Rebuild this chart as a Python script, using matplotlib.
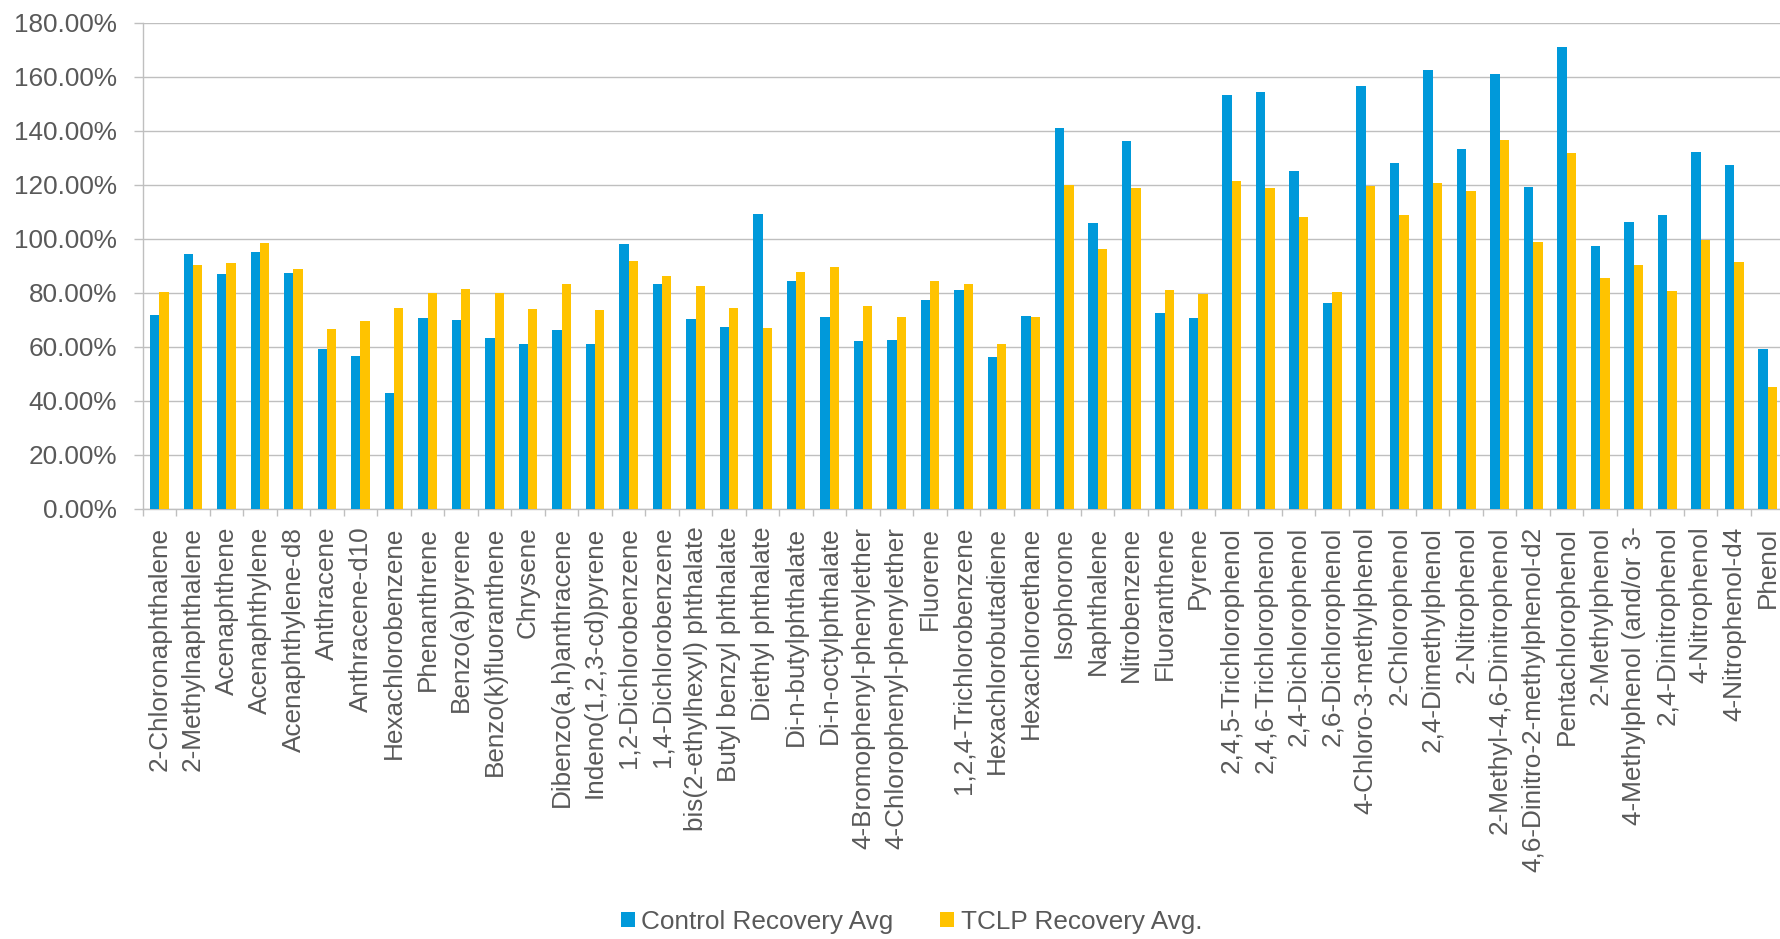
import matplotlib
matplotlib.use("Agg")
import matplotlib.pyplot as plt
import numpy as np
from matplotlib.ticker import FuncFormatter, FixedLocator
from matplotlib.patches import Patch

compounds = [
    "2-Chloronaphthalene", "2-Methylnaphthalene", "Acenaphthene", "Acenaphthylene",
    "Acenaphthylene-d8", "Anthracene", "Anthracene-d10", "Hexachlorobenzene",
    "Phenanthrene", "Benzo(a)pyrene", "Benzo(k)fluoranthene", "Chrysene",
    "Dibenzo(a,h)anthracene", "Indeno(1,2,3-cd)pyrene", "1,2-Dichlorobenzene",
    "1,4-Dichlorobenzene", "bis(2-ethylhexyl) phthalate", "Butyl benzyl phthalate",
    "Diethyl phthalate", "Di-n-butylphthalate", "Di-n-octylphthalate",
    "4-Bromophenyl-phenylether", "4-Chlorophenyl-phenylether", "Fluorene",
    "1,2,4-Trichlorobenzene", "Hexachlorobutadiene", "Hexachloroethane", "Isophorone",
    "Naphthalene", "Nitrobenzene", "Fluoranthene", "Pyrene", "2,4,5-Trichlorophenol",
    "2,4,6-Trichlorophenol", "2,4-Dichlorophenol", "2,6-Dichlorophenol",
    "4-Chloro-3-methylphenol", "2-Chlorophenol", "2,4-Dimethylphenol", "2-Nitrophenol",
    "2-Methyl-4,6-Dinitrophenol", "4,6-Dinitro-2-methylphenol-d2", "Pentachlorophenol",
    "2-Methylphenol", "4-Methylphenol (and/or 3-", "2,4-Dinitrophenol", "4-Nitrophenol",
    "4-Nitrophenol-d4", "Phenol",
]

control_recovery = [
    71.7, 94.4, 86.8, 95.3, 87.3, 59.2, 56.6, 42.8, 70.6, 69.9, 63.4, 61.1, 66.4, 60.9,
    98.0, 83.4, 70.2, 67.5, 109.3, 84.3, 71.2, 62.2, 62.4, 77.3, 81.1, 56.2, 71.5, 140.9,
    106.0, 136.3, 72.7, 70.6, 153.1, 154.5, 125.0, 76.3, 156.7, 128.0, 162.5, 133.4,
    160.9, 119.1, 171.0, 97.2, 106.2, 108.9, 132.2, 127.5, 59.1,
]

tclp_recovery = [
    80.3, 90.3, 91.2, 98.3, 88.9, 66.6, 69.6, 74.4, 79.9, 81.5, 79.9, 74.0, 83.1, 73.8,
    91.7, 86.1, 82.5, 74.4, 67.0, 87.9, 89.6, 75.3, 71.2, 84.3, 83.4, 61.1, 71.2, 120.0,
    96.1, 119.0, 81.1, 79.6, 121.5, 119.0, 108.0, 80.5, 119.6, 108.7, 120.5, 117.6,
    136.7, 98.7, 131.8, 85.4, 90.4, 80.8, 99.5, 91.3, 45.2,
]

series_names = ["Control Recovery Avg", "TCLP Recovery Avg."]
y_ticks = [0, 20, 40, 60, 80, 100, 120, 140, 160, 180]

BLUE = "#0099DA"
GOLD = "#FFC300"
TEXT = "#595959"
GRID = "#BFBFBF"
FS = 18.8

plt.rcParams["font.family"] = ["Liberation Sans", "DejaVu Sans"]

W, H = 1781, 939
fig = plt.figure(figsize=(W / 100, H / 100), dpi=100)
left_px, right_px = 142.7, 1784.5
top_px, bottom_px = 22.7, 509.0
ax = fig.add_axes([left_px / W, 1 - bottom_px / H,
                   (right_px - left_px) / W, (bottom_px - top_px) / H])

n = len(compounds)
x = np.arange(n)
bw = 0.28
ax.bar(x - bw / 2, control_recovery, width=bw, color=BLUE, zorder=3,
       label=series_names[0])
ax.bar(x + bw / 2, tclp_recovery, width=bw, color=GOLD, zorder=3,
       label=series_names[1])

ax.set_xlim(-0.5, n - 0.5)
ax.set_ylim(0, 180)

# y axis: percentage ticks with horizontal gridlines
ax.yaxis.set_major_locator(FixedLocator(y_ticks))
ax.yaxis.set_major_formatter(FuncFormatter(lambda v, _: f"{v:.2f}%"))
ax.grid(axis="y", color=GRID, linewidth=1.0, zorder=0)
ax.tick_params(axis="y", which="major", length=6.3, width=1.0, color=GRID,
               pad=12.2, labelsize=FS, labelcolor=TEXT)

# x axis: labels at category centres, tick marks at category boundaries
ax.set_xticks(x)
ax.set_xticklabels(compounds, rotation=90, ha="center", va="top")
ax.set_xticks(np.arange(n + 1) - 0.5, minor=True)
ax.tick_params(axis="x", which="major", length=0, pad=12.7,
               labelsize=FS, labelcolor=TEXT)
ax.tick_params(axis="x", which="minor", length=5.0, width=1.0, color=GRID)

for side in ("top", "right"):
    ax.spines[side].set_visible(False)
for side in ("left", "bottom"):
    ax.spines[side].set_color(GRID)
    ax.spines[side].set_linewidth(1.0)
ax.set_axisbelow(True)

handles = [Patch(facecolor=BLUE, label=series_names[0]),
           Patch(facecolor=GOLD, label=series_names[1])]
fig.legend(handles=handles, loc="center", ncol=2, frameon=False,
           bbox_to_anchor=(911.5 / W, 1 - 922 / H), fontsize=FS,
           labelcolor=TEXT, handlelength=0.53, handleheight=0.53,
           handletextpad=0.25, columnspacing=1.8, borderpad=0, borderaxespad=0)

fig.savefig("out.png", dpi=100, facecolor="white")
